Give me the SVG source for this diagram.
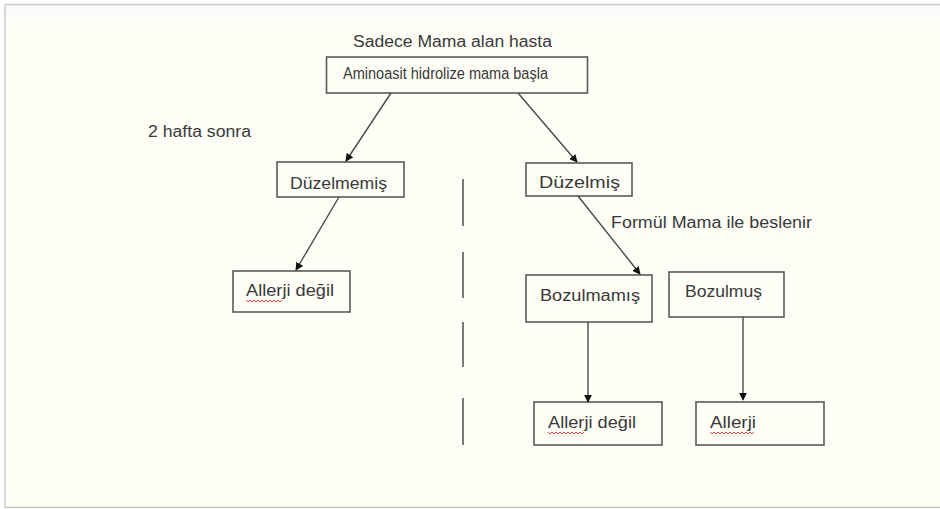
<svg xmlns="http://www.w3.org/2000/svg" width="940" height="509" viewBox="0 0 940 509">
<defs>
<style>
.t{font-family:"Liberation Sans","Open Sans",Arial,sans-serif;fill:#3a3a3a;font-size:16px}
.box{fill:none;stroke:#5a5a5a;stroke-width:1.6}
.ln{stroke:#4a4a4a;stroke-width:1.4;fill:none}
.dash{stroke:#7a7a7a;stroke-width:2}
.sq{fill:none;stroke:#e03030;stroke-width:0.9}
</style>
<marker id="ah" viewBox="0 0 10 10" refX="9" refY="5" markerWidth="8" markerHeight="8" markerUnits="userSpaceOnUse" orient="auto">
<path d="M0,0 L10,5 L0,10 z" fill="#111"/>
</marker>
</defs>
<rect x="0" y="0" width="940" height="509" fill="#ffffff"/>
<rect x="5" y="5" width="940" height="502" fill="#fefef7"/>
<rect x="5" y="5" width="935" height="14" fill="#fbfbf9"/>
<path d="M5,4.5 H940 M5,4.5 V507.5 H940" fill="none" stroke="#c8c8c8" stroke-width="1.4"/>

<text class="t" x="353" y="47" font-size="17" textLength="199" lengthAdjust="spacingAndGlyphs">Sadece Mama alan hasta</text>
<text class="t" x="148" y="137" textLength="103" lengthAdjust="spacingAndGlyphs">2 hafta sonra</text>
<text class="t" x="611" y="228" textLength="201" lengthAdjust="spacingAndGlyphs">Formül Mama ile beslenir</text>

<g id="n-top">
<rect class="box" x="326.5" y="57" width="261" height="36"/>
<text class="t" x="343" y="79" font-size="13.5" textLength="205" lengthAdjust="spacingAndGlyphs">Aminoasit hidrolize mama başla</text>
</g>
<g id="n-duzelmemis">
<rect class="box" x="277" y="162" width="127" height="35"/>
<text class="t" x="290" y="189" textLength="97" lengthAdjust="spacingAndGlyphs">Düzelmemiş</text>
</g>
<g id="n-duzelmis">
<rect class="box" x="526" y="163" width="106" height="33"/>
<text class="t" x="539" y="188" textLength="81" lengthAdjust="spacingAndGlyphs">Düzelmiş</text>
</g>
<g id="n-allerji-degil-1">
<rect class="box" x="233" y="271" width="117" height="41"/>
<text class="t" x="246" y="296" textLength="88" lengthAdjust="spacingAndGlyphs">Allerji değil</text>
<path class="sq" d="M246,300 l2,2 l2,-2 l2,2 l2,-2 l2,2 l2,-2 l2,2 l2,-2 l2,2 l2,-2 l2,2 l2,-2 l2,2 l2,-2 l2,2 l2,-2 l2,2 l2,-2"/>
</g>
<g id="n-bozulmamis">
<rect class="box" x="526" y="275" width="126" height="47"/>
<text class="t" x="540" y="301" textLength="100" lengthAdjust="spacingAndGlyphs">Bozulmamış</text>
</g>
<g id="n-bozulmus">
<rect class="box" x="669" y="272" width="115" height="45"/>
<text class="t" x="685" y="297" textLength="77" lengthAdjust="spacingAndGlyphs">Bozulmuş</text>
</g>
<g id="n-allerji-degil-2">
<rect class="box" x="534" y="402" width="128" height="43"/>
<text class="t" x="548" y="428" textLength="88" lengthAdjust="spacingAndGlyphs">Allerji değil</text>
<path class="sq" d="M548,432 l2,2 l2,-2 l2,2 l2,-2 l2,2 l2,-2 l2,2 l2,-2 l2,2 l2,-2 l2,2 l2,-2 l2,2 l2,-2 l2,2 l2,-2 l2,2 l2,-2"/>
</g>
<g id="n-allerji">
<rect class="box" x="696" y="402" width="128" height="43"/>
<text class="t" x="710" y="428" textLength="46" lengthAdjust="spacingAndGlyphs">Allerji</text>
<path class="sq" d="M710,432 l2,2 l2,-2 l2,2 l2,-2 l2,2 l2,-2 l2,2 l2,-2 l2,2 l2,-2 l2,2 l2,-2 l2,2 l2,-2 l2,2 l2,-2 l2,2 l2,-2 l2,2 l2,-2 l2,2 l2,-2"/>
</g>

<g id="connectors">
<line class="ln" x1="391" y1="93" x2="346" y2="161" marker-end="url(#ah)"/>
<line class="ln" x1="518" y1="93" x2="577" y2="162" marker-end="url(#ah)"/>
<line class="ln" x1="339" y1="197" x2="296" y2="270" marker-end="url(#ah)"/>
<line class="ln" x1="578" y1="196" x2="640" y2="274" marker-end="url(#ah)"/>
<line class="ln" x1="588" y1="322" x2="588" y2="402" marker-end="url(#ah)"/>
<line class="ln" x1="743" y1="317" x2="743" y2="400" marker-end="url(#ah)"/>
<line class="dash" x1="463" y1="179" x2="463" y2="226"/>
<line class="dash" x1="463" y1="252" x2="463" y2="298"/>
<line class="dash" x1="463" y1="322" x2="463" y2="367"/>
<line class="dash" x1="463" y1="398" x2="463" y2="445"/>
</g>
</svg>
